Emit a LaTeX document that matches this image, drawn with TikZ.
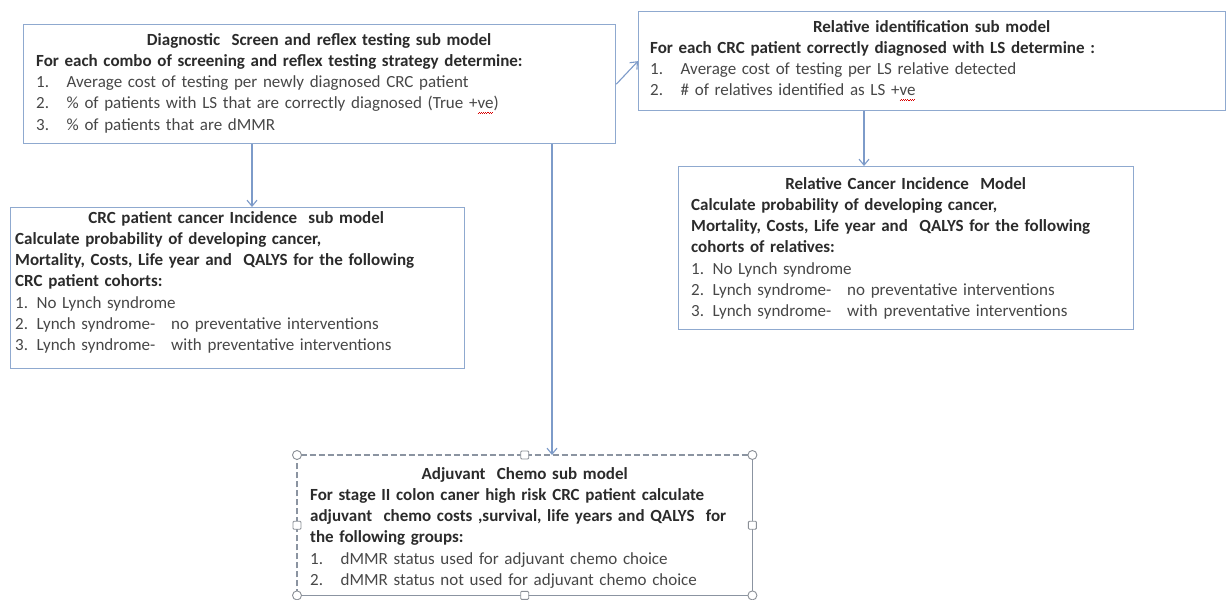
\documentclass[tikz,border=0pt]{standalone}
\usepackage{fontspec}
\setmainfont{Carlito}
\usetikzlibrary{arrows.meta}

% red wavy spell-check underline built from tiny staggered rules
\newcommand\spellwave[1]{\setbox0\hbox{#1}%
  \rlap{\smash{\textcolor{red!85!black}{\hbox to \wd0{\leaders\hbox{\rule[-4.6pt]{1.1pt}{0.9pt}\rule[-3.6pt]{1.1pt}{0.9pt}}\hfill}}}}\box0}

\definecolor{boxline}{HTML}{8FA9CF}
\definecolor{arrline}{HTML}{7D9BC9}
\definecolor{boldtxt}{HTML}{2B2B2B}
\definecolor{normtxt}{HTML}{474747}
\definecolor{handle}{HTML}{8A8F96}

\newcommand\numitem[2]{\makebox[30.5pt][l]{#1}#2\par}
\newcommand\headline[1]{{\centering\bfseries\color{boldtxt}#1\par}}
\newcommand\boldline[1]{{\bfseries\color{boldtxt}#1\par}}

\begin{document}
\begin{tikzpicture}[x=1pt,y=-1pt,
  panel/.style={draw=boxline, line width=1.3pt, fill=white, inner sep=0pt,
    anchor=north west, minimum width=#1},
  txt/.style={anchor=base west, inner sep=0pt, text width=#1,
    font=\fontsize{17}{21.3}\selectfont, text=normtxt},
  arr/.style={draw=arrline, line width=1.1pt,
    -{Straight Barb[length=6pt,width=10pt,line width=1.1pt]}},
  selframe/.style={draw=handle!80!boxline, line width=1.1pt, dash pattern=on 6pt off 3pt},
  selsolid/.style={draw=handle!80!boxline, line width=1.1pt},
  cornerhandle/.style={circle, draw=handle, fill=white, line width=0.9pt,
    minimum size=9pt, inner sep=0pt},
  sidehandle/.style={rectangle, rounded corners=1pt, draw=handle, fill=white,
    line width=0.9pt, minimum size=8pt, inner sep=0pt}
]
\useasboundingbox[fill=white] (0,0) rectangle (1227,600);

% ---- panels ----
\node[panel=592pt, minimum height=119pt] (diag)  at (23,24)   {};
\node[panel=587pt, minimum height=99pt]  (relid) at (638,11)  {};
\node[panel=454pt, minimum height=161pt] (crc)   at (10,207)  {};
\node[panel=455pt, minimum height=163pt] (relinc) at (678,166) {};
\node[inner sep=0pt, anchor=north west, minimum width=455pt, minimum height=140pt, fill=white] (adj) at (297,455) {};

% ---- texts ----
\node[txt=566pt] (diag-t) at (36,45) {%
  \headline{Diagnostic\ \ Screen and reflex testing sub model}
  \boldline{For each combo of screening and reflex testing strategy determine:}
  \numitem{1.}{Average cost of testing per newly diagnosed CRC patient}
  \numitem{2.}{\% of patients with LS that are correctly diagnosed (True +\spellwave{ve})}
  \numitem{3.}{\% of patients that are dMMR}};

\node[txt=563pt] (relid-t) at (650,32) {%
  \headline{Relative identification sub model}
  \boldline{For each CRC patient correctly diagnosed with LS determine :}
  \numitem{1.}{Average cost of testing per LS relative detected}
  \numitem{2.}{\# of relatives identified as LS +\spellwave{ve}}};

\node[txt=442pt] (crc-t) at (15,223) {%
  \headline{CRC patient cancer Incidence\ \ sub model}
  \boldline{Calculate probability of developing cancer,}
  \boldline{Mortality, Costs, Life year and\ \ QALYS for the following}
  \boldline{CRC patient cohorts:}
  1. No Lynch syndrome\par
  2. Lynch syndrome-\hspace{16pt}no preventative interventions\par
  3. Lynch syndrome-\hspace{16pt}with preventative interventions\par};

\node[txt=429pt] (relinc-t) at (691,189) {%
  \headline{Relative Cancer Incidence\ \ Model}
  \boldline{Calculate probability of developing cancer,}
  \boldline{Mortality, Costs, Life year and\ \ QALYS for the following}
  \boldline{cohorts of relatives:}
  1. No Lynch syndrome\par
  2. Lynch syndrome-\hspace{16pt}no preventative interventions\par
  3. Lynch syndrome-\hspace{16pt}with preventative interventions\par};

\node[txt=429pt] (adj-t) at (310,479) {%
  \headline{Adjuvant\ \ Chemo sub model}
  \boldline{For stage II colon caner high risk CRC patient calculate}
  \boldline{adjuvant\ \ chemo costs ,survival, life years and QALYS\ \ for}
  \boldline{the following groups:}
  \numitem{1.}{dMMR status used for adjuvant chemo choice}
  \numitem{2.}{dMMR status not used for adjuvant chemo choice}};

% ---- selected text box frame and handles ----
\draw[selsolid] (adj.north east) -- (adj.south east) -- (adj.south west);
\draw[selframe] (adj.south west) -- (adj.north west) -- (adj.north east);

% ---- connectors ----
\coordinate (xcrc) at (252,0);
\coordinate (xadj) at (552,0);
\coordinate (xrel) at (864,0);
\draw[arr] (diag.south -| xcrc) -- (crc.north -| xcrc);
\draw[arr] (diag.south -| xadj) -- (adj.north -| xadj);
\draw[arr] (diag.east) -- (relid.west);
\draw[arr] (relid.south -| xrel) -- (relinc.north -| xrel);

\node[cornerhandle] (h-nw) at (adj.north west) {};
\node[cornerhandle] (h-ne) at (adj.north east) {};
\node[cornerhandle] (h-sw) at (adj.south west) {};
\node[cornerhandle] (h-se) at (adj.south east) {};
\node[sidehandle] (h-n) at (adj.north) {};
\node[sidehandle] (h-s) at (adj.south) {};
\node[sidehandle] (h-w) at (adj.west) {};
\node[sidehandle] (h-e) at (adj.east) {};
\end{tikzpicture}
\end{document}
